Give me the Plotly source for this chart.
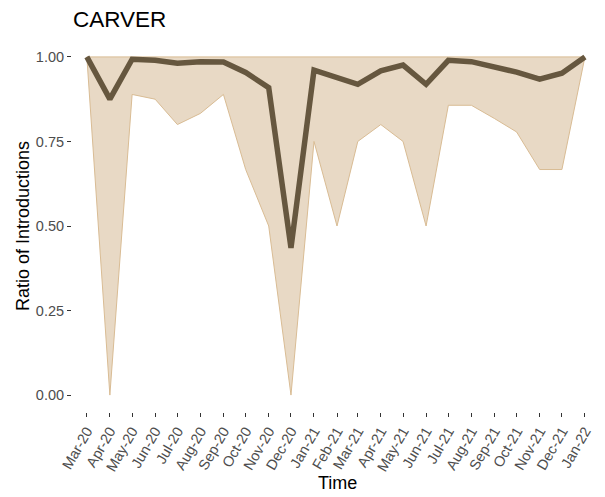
import pandas as pd
import plotly.graph_objects as go

months = ["2020-03-01", "2020-04-01", "2020-05-01", "2020-06-01", "2020-07-01", "2020-08-01",
          "2020-09-01", "2020-10-01", "2020-11-01", "2020-12-01", "2021-01-01", "2021-02-01",
          "2021-03-01", "2021-04-01", "2021-05-01", "2021-06-01", "2021-07-01", "2021-08-01",
          "2021-09-01", "2021-10-01", "2021-11-01", "2021-12-01", "2022-01-01"]
ratio = [1.0, 0.875, 0.993, 0.99, 0.981, 0.986, 0.985, 0.954, 0.909, 0.435, 0.961, 0.939,
         0.919, 0.959, 0.976, 0.919, 0.99, 0.986, 0.972, 0.955, 0.934, 0.952, 1.0]
lower = [1.0, 0.0, 0.889, 0.875, 0.8, 0.833, 0.889, 0.667, 0.5, 0.0, 0.75, 0.5,
         0.75, 0.8, 0.75, 0.5, 0.857, 0.857, 0.818, 0.778, 0.667, 0.667, 1.0]
upper = [1.0] * len(months)
tick_labels = [pd.Timestamp(m).strftime("%b-%y") for m in months]
y_ticks = [0.0, 0.25, 0.5, 0.75, 1.0]

FONT = "Arial, Liberation Sans, Helvetica, sans-serif"
OFF = 8  # page body margin
W, H = 605 - OFF, 497 - OFF
# panel edges in page pixels
P_L, P_R, P_T, P_B = 72, 602, 40, 412
L, R, T, B = P_L - OFF, W - (P_R - OFF), P_T - OFF, H - (P_B - OFF)
PW, PH = P_R - P_L, P_B - P_T

fig = go.Figure()
fig.add_trace(go.Scatter(x=months, y=upper, mode="lines",
                         line=dict(color="#D9BC94", width=1), showlegend=False, hoverinfo="skip"))
fig.add_trace(go.Scatter(x=months, y=lower, mode="lines", fill="tonexty",
                         fillcolor="rgba(210,180,140,0.5)",
                         line=dict(color="#D9BC94", width=1), showlegend=False, hoverinfo="skip"))
fig.add_trace(go.Scatter(x=months, y=ratio, mode="lines",
                         line=dict(color="#66573F", width=5.5), showlegend=False))

start = pd.Timestamp(months[0]) - pd.Timedelta(days=20)
end = pd.Timestamp(months[-1]) + pd.Timedelta(days=23)

fig.update_layout(
    width=W, height=H,
    margin=dict(l=L, r=R, t=T, b=B),
    plot_bgcolor="white", paper_bgcolor="white",
    font=dict(family=FONT),
    title=dict(text="CARVER", x=(73 - OFF) / W, xref="container", xanchor="left",
               y=1 - (19 - OFF) / H, yref="container", yanchor="middle",
               font=dict(size=22.5, color="black", family=FONT)),
    xaxis=dict(type="date", range=[start, end], tickmode="array", tickvals=months,
               ticktext=tick_labels, tickangle=-60, showgrid=False, zeroline=False,
               ticks="outside", ticklen=4, tickwidth=1, tickcolor="#333333",
               tickfont=dict(size=14.5, color="#4D4D4D", family=FONT), showline=False),
    yaxis=dict(range=[-0.05, 1.05], tickmode="array", tickvals=y_ticks,
               ticktext=[f"{v:.2f}" for v in y_ticks], showgrid=False, zeroline=False,
               ticks="outside", ticklen=4, tickwidth=1, tickcolor="#333333",
               tickfont=dict(size=14.5, color="#4D4D4D", family=FONT), showline=False),
    annotations=[
        dict(text="Time", xref="paper", yref="paper", x=(337 - P_L) / PW, y=(P_B - 483) / PH,
             xanchor="center", yanchor="middle", showarrow=False,
             font=dict(size=18, color="black", family=FONT)),
        dict(text="Ratio of Introductions", xref="paper", yref="paper", x=(23 - P_L) / PW, y=0.5,
             xanchor="center", yanchor="middle", textangle=-90, showarrow=False,
             font=dict(size=18, color="black", family=FONT)),
    ],
)
fig.write_html("out.html")
